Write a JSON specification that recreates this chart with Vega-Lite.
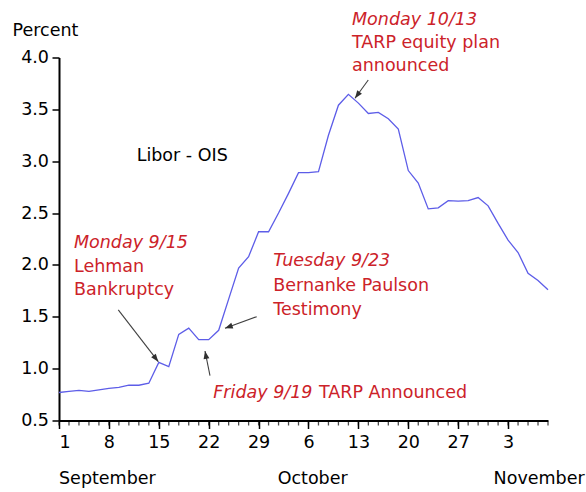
{
  "$schema": "https://vega.github.io/schema/vega-lite/v6.json",
  "width": 489,
  "height": 363,
  "autosize": {"type": "none"},
  "padding": {"left": 59, "top": 57.5, "right": 38, "bottom": 71.5},
  "background": "white",
  "config": {
    "view": {"stroke": null},
    "font": "DejaVu Sans",
    "axis": {"labelFont": "DejaVu Sans", "titleFont": "DejaVu Sans", "labelColor": "black", "titleColor": "black", "grid": false}
  },
  "datasets": {
    "libor": [
      {"date": "2008-09-01", "d": 0, "v": 0.77},
      {"date": "2008-09-02", "d": 1, "v": 0.78},
      {"date": "2008-09-03", "d": 2, "v": 0.79},
      {"date": "2008-09-04", "d": 3, "v": 0.78},
      {"date": "2008-09-05", "d": 4, "v": 0.795},
      {"date": "2008-09-08", "d": 5, "v": 0.81},
      {"date": "2008-09-09", "d": 6, "v": 0.82},
      {"date": "2008-09-10", "d": 7, "v": 0.84},
      {"date": "2008-09-11", "d": 8, "v": 0.84},
      {"date": "2008-09-12", "d": 9, "v": 0.86},
      {"date": "2008-09-15", "d": 10, "v": 1.06},
      {"date": "2008-09-16", "d": 11, "v": 1.02},
      {"date": "2008-09-17", "d": 12, "v": 1.33},
      {"date": "2008-09-18", "d": 13, "v": 1.39},
      {"date": "2008-09-19", "d": 14, "v": 1.28},
      {"date": "2008-09-22", "d": 15, "v": 1.28},
      {"date": "2008-09-23", "d": 16, "v": 1.37},
      {"date": "2008-09-24", "d": 17, "v": 1.67},
      {"date": "2008-09-25", "d": 18, "v": 1.97},
      {"date": "2008-09-26", "d": 19, "v": 2.08},
      {"date": "2008-09-29", "d": 20, "v": 2.32},
      {"date": "2008-09-30", "d": 21, "v": 2.32},
      {"date": "2008-10-01", "d": 22, "v": 2.50},
      {"date": "2008-10-02", "d": 23, "v": 2.69},
      {"date": "2008-10-03", "d": 24, "v": 2.89},
      {"date": "2008-10-06", "d": 25, "v": 2.89},
      {"date": "2008-10-07", "d": 26, "v": 2.90},
      {"date": "2008-10-08", "d": 27, "v": 3.25},
      {"date": "2008-10-09", "d": 28, "v": 3.54},
      {"date": "2008-10-10", "d": 29, "v": 3.645},
      {"date": "2008-10-13", "d": 30, "v": 3.56},
      {"date": "2008-10-14", "d": 31, "v": 3.46},
      {"date": "2008-10-15", "d": 32, "v": 3.47},
      {"date": "2008-10-16", "d": 33, "v": 3.41},
      {"date": "2008-10-17", "d": 34, "v": 3.31},
      {"date": "2008-10-20", "d": 35, "v": 2.91},
      {"date": "2008-10-21", "d": 36, "v": 2.79},
      {"date": "2008-10-22", "d": 37, "v": 2.54},
      {"date": "2008-10-23", "d": 38, "v": 2.55},
      {"date": "2008-10-24", "d": 39, "v": 2.62},
      {"date": "2008-10-27", "d": 40, "v": 2.615},
      {"date": "2008-10-28", "d": 41, "v": 2.62},
      {"date": "2008-10-29", "d": 42, "v": 2.65},
      {"date": "2008-10-30", "d": 43, "v": 2.57},
      {"date": "2008-10-31", "d": 44, "v": 2.40},
      {"date": "2008-11-03", "d": 45, "v": 2.24},
      {"date": "2008-11-04", "d": 46, "v": 2.12},
      {"date": "2008-11-05", "d": 47, "v": 1.92},
      {"date": "2008-11-06", "d": 48, "v": 1.85},
      {"date": "2008-11-07", "d": 49, "v": 1.76}
    ],
    "italicNotes": [
      {"d": 1.5, "v": 2.166, "text": "Monday 9/15"},
      {"d": 21.47, "v": 1.994, "text": "Tuesday 9/23"},
      {"d": 15.46, "v": 0.714, "text": "Friday 9/19"},
      {"d": 29.36, "v": 4.313, "text": "Monday 10/13"}
    ],
    "notes": [
      {"d": 1.5, "v": 1.932, "text": "Lehman"},
      {"d": 1.5, "v": 1.71, "text": "Bankruptcy"},
      {"d": 21.47, "v": 1.753, "text": "Bernanke Paulson"},
      {"d": 21.47, "v": 1.522, "text": "Testimony"},
      {"d": 26.05, "v": 0.714, "text": "TARP Announced"},
      {"d": 29.36, "v": 4.096, "text": "TARP equity plan"},
      {"d": 29.36, "v": 3.873, "text": "announced"}
    ],
    "labels": [
      {"d": 7.78, "v": 3.005, "text": "Libor - OIS"},
      {"d": 0, "v": -0.112, "text": "September"},
      {"d": 21.91, "v": -0.112, "text": "October"},
      {"d": 43.55, "v": -0.112, "text": "November"}
    ],
    "arrows": [
      {"id": "lehman", "d": 5.94, "v": 1.566, "d2": 9.95, "v2": 1.067},
      {"id": "friday", "d": 15.13, "v": 0.932, "d2": 14.63, "v2": 1.17},
      {"id": "tuesday", "d": 19.81, "v": 1.501, "d2": 16.63, "v2": 1.389},
      {"id": "monday", "d": 30.99, "v": 3.783, "d2": 29.66, "v2": 3.607}
    ]
  },
  "layer": [
    {
      "data": {"name": "libor"},
      "mark": {"type": "tick", "orient": "vertical", "color": "black", "thickness": 1.3, "size": 4, "yOffset": 3},
      "encoding": {
        "x": {"field": "d", "type": "quantitative"},
        "y": {"datum": 0.5, "type": "quantitative"}
      }
    },
    {
      "data": {"name": "libor"},
      "mark": {"type": "line", "color": "#5d5de8", "strokeWidth": 1.3},
      "encoding": {
        "x": {
          "field": "d", "type": "quantitative",
          "scale": {"domain": [0, 49], "nice": false, "zero": false},
          "axis": {
            "title": null,
            "values": [0, 5, 10, 15, 20, 25, 30, 35, 40, 45],
            "labelExpr": "['1','8','15','22','29','6','13','20','27','3'][round(datum.value / 5)]",
            "labelOverlap": false,
            "labelFontSize": 17.5,
            "labelPadding": 5,
            "domainColor": "black",
            "domainWidth": 2,
            "tickColor": "black",
            "tickWidth": 1.5,
            "tickSize": 8
          }
        },
        "y": {
          "field": "v", "type": "quantitative",
          "scale": {"domain": [0.5, 4.0], "nice": false, "zero": false},
          "axis": {
            "title": "Percent",
            "titleAngle": 0,
            "titleAlign": "left",
            "titleBaseline": "alphabetic",
            "titleX": -47,
            "titleY": -22.5,
            "titleFontSize": 17.5,
            "titleFontWeight": "normal",
            "values": [0.5, 1.0, 1.5, 2.0, 2.5, 3.0, 3.5, 4.0],
            "format": ".1f",
            "labelFontSize": 17.5,
            "labelPadding": 3.5,
            "domainColor": "black",
            "domainWidth": 2,
            "tickColor": "black",
            "tickWidth": 1.5,
            "tickSize": 7
          }
        }
      }
    },
    {
      "data": {"name": "arrows"},
      "mark": {"type": "rule", "color": "#404040", "strokeWidth": 1.1},
      "encoding": {
        "x": {"field": "d", "type": "quantitative"},
        "y": {"field": "v", "type": "quantitative"},
        "x2": {"field": "d2"},
        "y2": {"field": "v2"}
      }
    },
    {
      "data": {"name": "arrows"},
      "transform": [{"filter": "datum.id === 'lehman'"}],
      "mark": {"type": "point", "shape": "M0,0L-0.45,1.2L0.45,1.2Z", "filled": true, "opacity": 1, "color": "#303030", "size": 170, "angle": 142},
      "encoding": {"x": {"field": "d2", "type": "quantitative"}, "y": {"field": "v2", "type": "quantitative"}}
    },
    {
      "data": {"name": "arrows"},
      "transform": [{"filter": "datum.id === 'friday'"}],
      "mark": {"type": "point", "shape": "M0,0L-0.45,1.2L0.45,1.2Z", "filled": true, "opacity": 1, "color": "#303030", "size": 170, "angle": 349},
      "encoding": {"x": {"field": "d2", "type": "quantitative"}, "y": {"field": "v2", "type": "quantitative"}}
    },
    {
      "data": {"name": "arrows"},
      "transform": [{"filter": "datum.id === 'tuesday'"}],
      "mark": {"type": "point", "shape": "M0,0L-0.45,1.2L0.45,1.2Z", "filled": true, "opacity": 1, "color": "#303030", "size": 170, "angle": 250},
      "encoding": {"x": {"field": "d2", "type": "quantitative"}, "y": {"field": "v2", "type": "quantitative"}}
    },
    {
      "data": {"name": "arrows"},
      "transform": [{"filter": "datum.id === 'monday'"}],
      "mark": {"type": "point", "shape": "M0,0L-0.45,1.2L0.45,1.2Z", "filled": true, "opacity": 1, "color": "#303030", "size": 170, "angle": 216},
      "encoding": {"x": {"field": "d2", "type": "quantitative"}, "y": {"field": "v2", "type": "quantitative"}}
    },
    {
      "data": {"name": "italicNotes"},
      "mark": {"type": "text", "align": "left", "baseline": "alphabetic", "font": "DejaVu Sans", "fontSize": 17.5, "fontStyle": "italic", "color": "#cc2229"},
      "encoding": {
        "x": {"field": "d", "type": "quantitative"},
        "y": {"field": "v", "type": "quantitative"},
        "text": {"field": "text"}
      }
    },
    {
      "data": {"name": "notes"},
      "mark": {"type": "text", "align": "left", "baseline": "alphabetic", "font": "DejaVu Sans", "fontSize": 17.5, "color": "#cc2229"},
      "encoding": {
        "x": {"field": "d", "type": "quantitative"},
        "y": {"field": "v", "type": "quantitative"},
        "text": {"field": "text"}
      }
    },
    {
      "data": {"name": "labels"},
      "mark": {"type": "text", "align": "left", "baseline": "alphabetic", "font": "DejaVu Sans", "fontSize": 17.5, "color": "black"},
      "encoding": {
        "x": {"field": "d", "type": "quantitative"},
        "y": {"field": "v", "type": "quantitative"},
        "text": {"field": "text"}
      }
    }
  ]
}
